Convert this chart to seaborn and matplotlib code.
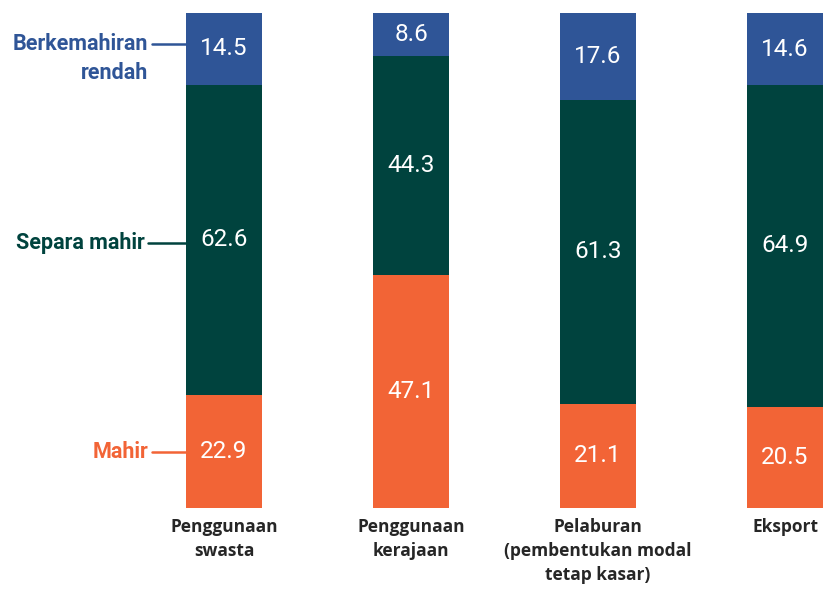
import matplotlib
matplotlib.use("Agg")
import matplotlib.pyplot as plt
import seaborn as sns
import pandas as pd

categories = ["Penggunaan\nswasta", "Penggunaan\nkerajaan",
              "Pelaburan\n(pembentukan modal\ntetap kasar)", "Eksport"]
mahir = [22.9, 47.1, 21.1, 20.5]
separa_mahir = [62.6, 44.3, 61.3, 64.9]
rendah = [14.5, 8.6, 17.6, 14.6]

c_rendah = "#2F5597"
c_separa = "#00433E"
c_mahir = "#F26436"

sns.set_style("white")
plt.rcParams["font.family"] = ["Roboto", "DejaVu Sans"]

df = pd.DataFrame({"cat": categories, "mahir": mahir,
                   "separa": separa_mahir, "rendah": rendah})
df["lvl2"] = df["mahir"] + df["separa"]
df["lvl3"] = df["lvl2"] + df["rendah"]

fig = plt.figure(figsize=(8.24, 5.95), dpi=100)
ax = fig.add_axes([0, 87 / 595, 1, 495 / 595])

w = 76 / 187
for col, c in [("lvl3", c_rendah), ("lvl2", c_separa), ("mahir", c_mahir)]:
    sns.barplot(data=df, x="cat", y=col, color=c, width=w, ax=ax,
                saturation=1, linewidth=0, edgecolor=c)

ax.set_xlim(-224 / 187, (824 - 224) / 187)
ax.set_ylim(0, 100)
ax.axis("off")

for i in range(len(categories)):
    segs = [(mahir[i], 0), (separa_mahir[i], mahir[i]),
            (rendah[i], mahir[i] + separa_mahir[i])]
    for v, base in segs:
        ax.text(i, base + v / 2, f"{v:.1f}", color="white", fontsize=17.5,
                ha="center", va="center")
    ax.text(i, -2.0, categories[i], ha="center", va="top", fontsize=12.5,
            fontweight="bold", color="#262626", family=["Open Sans", "DejaVu Sans"],
            linespacing=1.45)

# series labels on the left, with short leader lines
x0 = -w / 2
xl = (152 - 224) / 187
lab_font = dict(fontsize=15.5, fontweight="bold", ha="right", va="center")
y_r = (508 - 44) / 4.95
ax.text(xl - 0.02, y_r, "Berkemahiran", color=c_rendah, **lab_font)
ax.text(xl - 0.02, (508 - 73) / 4.95, "rendah", color=c_rendah, **lab_font)
ax.plot([xl, x0], [y_r, y_r], color=c_rendah, lw=1.8, clip_on=False)

y_s = (508 - 243) / 4.95
xs = (148 - 224) / 187
ax.text(xs - 0.02, y_s, "Separa mahir", color=c_separa, **lab_font)
ax.plot([xs, x0], [y_s, y_s], color=c_separa, lw=1.8, clip_on=False)

y_m = (508 - 452) / 4.95
ax.text(xl - 0.02, y_m, "Mahir", color=c_mahir, **lab_font)
ax.plot([xl, x0], [y_m, y_m], color=c_mahir, lw=1.8, clip_on=False)

fig.savefig("out.png", dpi=100)
